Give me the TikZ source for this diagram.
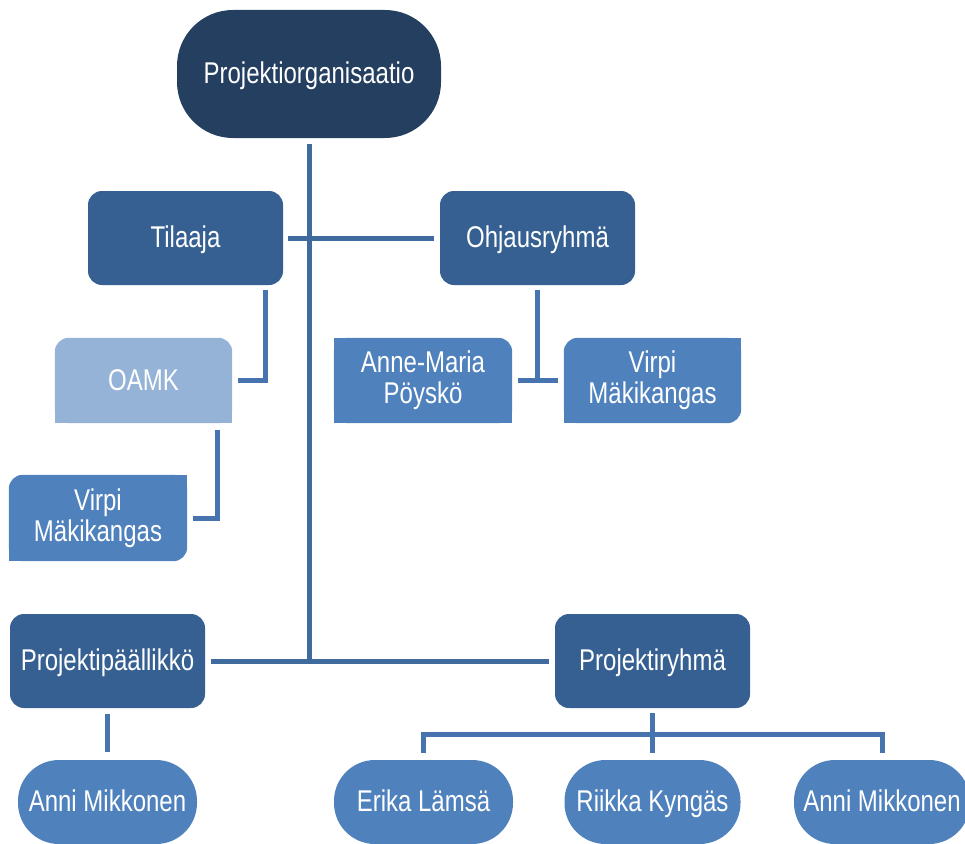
\documentclass[tikz,border=0pt]{standalone}
\usepackage{fontspec}
\setmainfont{Liberation Sans}[FakeStretch=0.8]
\usetikzlibrary{backgrounds,calc}
\definecolor{navy}{HTML}{243F60}
\definecolor{darkbox}{HTML}{366092}
\definecolor{midbox}{HTML}{4F81BD}
\definecolor{lightbox}{HTML}{95B3D7}
\definecolor{lineA}{HTML}{3F6A9E}
\definecolor{lineB}{HTML}{4774AE}
\begin{document}
\begin{tikzpicture}[x=1pt,y=-1pt,
  every node/.style={text=white,font=\fontsize{30}{31}\selectfont,align=center,inner sep=0pt},
  oneline/.style={text height=22pt,text depth=3pt},
  toppill/.style={rectangle,rounded corners=56pt,fill=navy,oneline,minimum width=264pt,minimum height=128pt},
  pill/.style={rectangle,rounded corners=41pt,fill=midbox,oneline,minimum height=84pt},
  rbox/.style={rectangle,rounded corners=14pt,fill=darkbox,oneline,minimum width=195pt,minimum height=94pt},
  plainbox/.style={rectangle,minimum width=178pt,minimum height=85pt},
  conn/.style={line width=5pt,draw=lineA},
  connB/.style={line width=5pt,draw=lineB}]
\useasboundingbox (0,0) rectangle (965,843);
\clip (0,0) rectangle (965,843);

% nodes
\node[toppill] (top) at (309,74) {Projektiorganisaatio};
\node[rbox] (til) at (185.5,238) {Tilaaja};
\node[rbox] (ohj) at (537.5,238) {Ohjausryhmä};
\node[plainbox,minimum width=177pt,oneline] (oamk) at (143.5,380.5) {OAMK};
\node[plainbox] (anne) at (423,380.5) {Anne-Maria\\Pöyskö};
\node[plainbox,minimum width=177pt] (virpiR) at (652.5,380.5) {Virpi\\Mäkikangas};
\node[plainbox,minimum height=86pt] (virpiL) at (98,518) {Virpi\\Mäkikangas};
\node[rbox] (pp) at (107.5,661) {Projektipäällikkö};
\node[rbox] (pr) at (652.5,661) {Projektiryhmä};
\node[pill,minimum width=179pt] (anniL) at (107.5,802) {Anni Mikkonen};
\node[pill,minimum width=179pt] (erika) at (423.5,802) {Erika Lämsä};
\node[pill,minimum width=176pt] (riikka) at (652.5,802) {Riikka Kyngäs};
\node[pill,minimum width=176pt] (anniR) at (882,802) {Anni Mikkonen};

% box fills with individual corners
\begin{scope}[on background layer]
  \fill[lightbox,rounded corners=14pt] (oamk.south west) rectangle (oamk.north east);
  \fill[lightbox] (oamk.south west) rectangle (oamk.east);
  \fill[midbox,rounded corners=14pt] (anne.south west) rectangle (anne.north east);
  \fill[midbox] (anne.south west) rectangle (anne.north);
  \fill[midbox] (anne.south west) rectangle (anne.east);
  \fill[midbox,rounded corners=14pt] (virpiR.south west) rectangle (virpiR.north east);
  \fill[midbox] (virpiR.south west) rectangle (virpiR.center);
  \fill[midbox] (virpiR.center) rectangle (virpiR.north east);
  \fill[midbox,rounded corners=14pt] (virpiL.south west) rectangle (virpiL.north east);
  \fill[midbox] (virpiL.south west) rectangle (virpiL.center);
  \fill[midbox] (virpiL.center) rectangle (virpiL.north east);
\end{scope}

% connectors
\coordinate (vtop) at ([yshift=-6pt]top.south);
\draw[conn] (vtop) -- (vtop |- pp.east);
\draw[conn] ([xshift=6pt]pp.east) -- ([xshift=-6pt]pr.west);
\draw[conn] ([xshift=5pt]til.east) -- ([xshift=-6pt]ohj.west);
\draw[connB] ([xshift=-18pt,yshift=-5pt]til.south east) |- ([xshift=6pt]oamk.east);
\draw[connB] ([xshift=-15pt,yshift=-7pt]oamk.south east) |- ([xshift=6pt]virpiL.east);
\coordinate (o1) at ([yshift=-5pt]ohj.south);
\draw[connB] (o1) -- (o1 |- anne.east);
\draw[connB] ([xshift=6pt]anne.east) -- ([xshift=-6pt]virpiR.west);
\draw[connB] ([yshift=-6pt]pp.south) -- ([yshift=8pt]anniL.north);
\coordinate (bar) at ([yshift=-26pt]pr.south);
\draw[connB] ([yshift=-5pt]pr.south) -- ([yshift=7pt]riikka.north);
\draw[connB] ([yshift=7pt]erika.north) |- (bar) -| ([yshift=7pt]anniR.north);
\end{tikzpicture}
\end{document}
